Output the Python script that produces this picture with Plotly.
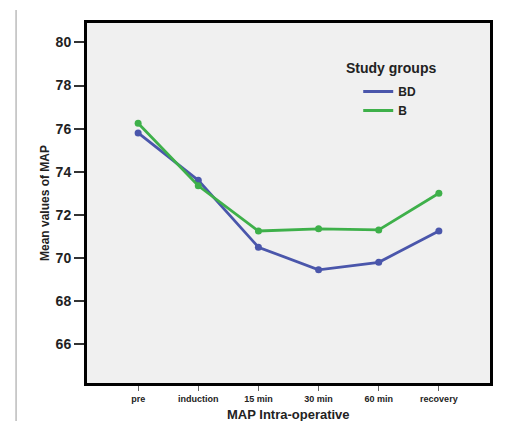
import plotly.graph_objects as go

categories = ["pre", "induction", "15 min", "30 min", "60 min", "recovery"]
bd_values = [75.8, 73.6, 70.5, 69.45, 69.8, 71.25]
b_values = [76.25, 73.35, 71.25, 71.35, 71.3, 73.0]
y_ticks = [66, 68, 70, 72, 74, 76, 78, 80]

x_idx = list(range(len(categories)))

BD_COL = "#4a56ab"
B_COL = "#3eb04a"

fig = go.Figure()
for name, vals, col in [("BD", bd_values, BD_COL), ("B", b_values, B_COL)]:
    fig.add_trace(go.Scatter(
        x=x_idx, y=vals, name="<b>%s</b>" % name, mode="lines",
        line=dict(color=col, width=2.8), legendgroup=name,
    ))
    fig.add_trace(go.Scatter(
        x=x_idx, y=vals, name=name, mode="markers", showlegend=False,
        marker=dict(size=7, color=col), legendgroup=name,
    ))

fig.update_layout(
    width=504, height=413,
    margin=dict(l=79, r=22, t=15, b=38),
    paper_bgcolor="white",
    plot_bgcolor="#f0f0f0",
    font=dict(family="Liberation Sans", color="#222"),
    showlegend=True,
    legend=dict(
        font=dict(size=12, color="#222"),
        x=0.673, y=0.85, xanchor="left", yanchor="top",
        bgcolor="rgba(0,0,0,0)",
        itemwidth=30, tracegroupgap=0,
    ),
    annotations=[
        dict(text="<b>Study groups</b>", xref="paper", yref="paper",
             x=0.754, y=0.875, xanchor="center", yanchor="middle",
             showarrow=False, font=dict(size=14, color="#222")),
        dict(text="<b>MAP Intra-operative</b>", xref="paper", yref="paper",
             x=0.5, y=-0.088, xanchor="center", yanchor="middle",
             showarrow=False, font=dict(size=13, color="#222")),
    ],
    xaxis=dict(
        range=[-0.85, 5.85],
        tickmode="array", tickvals=x_idx, ticktext=["<b>%s</b>" % c for c in categories],
        tickfont=dict(size=9, color="#222"),
        showgrid=False, zeroline=False,
        showline=True, mirror=True, linecolor="black", linewidth=3,
        ticks="outside", ticklen=5, tickwidth=1, tickcolor="#666",
        automargin=False,
    ),
    yaxis=dict(
        range=[64.2, 80.9],
        tickmode="array", tickvals=y_ticks, ticktext=["<b>%d</b>" % v for v in y_ticks],
        tickfont=dict(size=14, color="#222"),
        showgrid=False, zeroline=False,
        showline=True, mirror=True, linecolor="black", linewidth=3,
        ticks="outside", ticklen=10, tickwidth=2, tickcolor="#333",
        title=dict(text="<b>Mean values of MAP</b>", font=dict(size=12, color="#222"), standoff=4),
    ),
    shapes=[dict(type="line", xref="paper", yref="paper",
                 x0=-0.176, x1=-0.176, y0=-0.11, y1=1.036,
                 line=dict(color="#bbbbbb", width=1.5))],
)

fig.write_html("out.html")
